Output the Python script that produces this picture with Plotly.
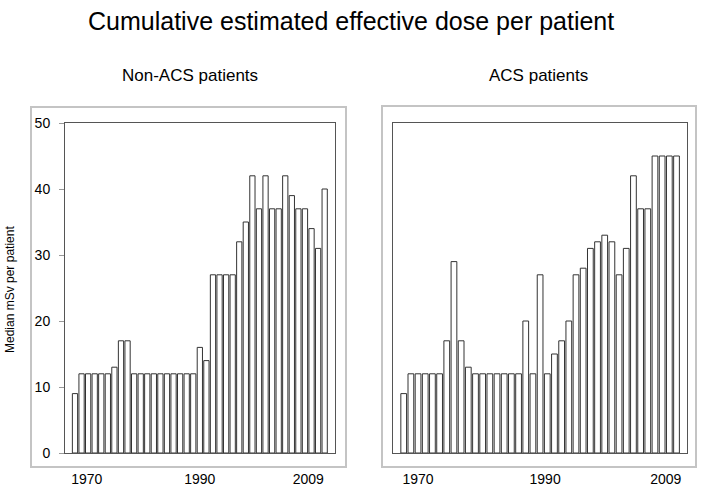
import plotly.graph_objects as go

# Median mSv per patient, one bar per year (39 bars in each panel)
non_acs_values = [9, 12, 12, 12, 12, 12, 13, 17, 17, 12, 12, 12, 12, 12, 12, 12, 12, 12, 12,
                  16, 14, 27, 27, 27, 27, 32, 35, 42, 37, 42, 37, 37, 42, 39, 37, 37, 34, 31, 40]
acs_values = [9, 12, 12, 12, 12, 12, 17, 29, 17, 13, 12, 12, 12, 12, 12, 12, 12, 20, 12,
              27, 12, 15, 17, 20, 27, 28, 31, 32, 33, 32, 27, 31, 42, 37, 37, 45, 45, 45, 45]
bar_index = list(range(len(non_acs_values)))

year_labels = ["1970", "1990", "2009"]
left_label_pos = [1.8, 19.0, 35.5]
right_label_pos = [2.0, 19.7, 36.5]

TXT = "Liberation Sans, Arial, sans-serif"
W, H = 702, 490


def px(x):
    return x / W


def py(y):
    return 1 - y / H


fig = go.Figure()

# Non-ACS panel
fig.add_trace(
    go.Bar(
        x=bar_index,
        y=non_acs_values,
        width=0.8,
        marker=dict(color="white", line=dict(color="#333333", width=1)),
        xaxis="x",
        yaxis="y",
        showlegend=False
    )
)

# ACS panel
fig.add_trace(
    go.Bar(
        x=bar_index,
        y=acs_values,
        width=0.8,
        marker=dict(color="white", line=dict(color="#333333", width=1)),
        xaxis="x2",
        yaxis="y2",
        showlegend=False
    )
)

frame = dict(showline=True, linecolor="#555555", linewidth=1, mirror=True,
             showgrid=False, zeroline=False, automargin=False)
tick_font = dict(family=TXT, size=14, color="black")

fig.update_layout(
    width=W,
    height=H,
    margin=dict(l=0, r=0, t=0, b=0, autoexpand=False),
    paper_bgcolor="white",
    plot_bgcolor="white",
    xaxis=dict(domain=[px(65), px(335)], range=[-1.52, 39.57],
               tickvals=left_label_pos, ticktext=year_labels, ticks="",
               ticklabelstandoff=13, tickfont=tick_font, **frame),
    yaxis=dict(domain=[py(453), py(123)], range=[0, 50], dtick=10,
               ticks="outside", ticklen=5, tickcolor="#999999", ticklabelstandoff=6,
               tickfont=tick_font, **frame),
    xaxis2=dict(domain=[px(393), px(687)], range=[-1.49, 39.46],
                tickvals=right_label_pos, ticktext=year_labels, ticks="",
                ticklabelstandoff=13, tickfont=tick_font, anchor="y2", **frame),
    yaxis2=dict(domain=[py(453), py(123)], range=[0, 50], showticklabels=False,
                ticks="", anchor="x2", **frame),
    shapes=[
        dict(type="rect", xref="paper", yref="paper",
             x0=px(31), x1=px(346), y0=py(467), y1=py(107),
             line=dict(color="#c4c4c4", width=2)),
        dict(type="rect", xref="paper", yref="paper",
             x0=px(382), x1=px(696), y0=py(467), y1=py(106),
             line=dict(color="#c4c4c4", width=2)),
    ],
    annotations=[
        dict(text="Cumulative estimated effective dose per patient", x=px(351), y=py(21),
             xref="paper", yref="paper", showarrow=False,
             xanchor="center", yanchor="middle",
             font=dict(family=TXT, size=25, color="black")),
        dict(text="Non-ACS patients", x=px(190), y=py(75),
             xref="paper", yref="paper", showarrow=False,
             xanchor="center", yanchor="middle",
             font=dict(family=TXT, size=17, color="black")),
        dict(text="ACS patients", x=px(538), y=py(75),
             xref="paper", yref="paper", showarrow=False,
             xanchor="center", yanchor="middle",
             font=dict(family=TXT, size=17, color="black")),
        dict(text="Median mSv per patient", x=px(10), y=py(290), textangle=-90,
             xref="paper", yref="paper", showarrow=False,
             xanchor="center", yanchor="middle",
             font=dict(family=TXT, size=12, color="black")),
    ]
)

# drop the browser's default body margin so the figure sits at the top-left corner
fig.write_html("out.html", config={"displayModeBar": False},
               post_script="document.body.style.margin='0';")
